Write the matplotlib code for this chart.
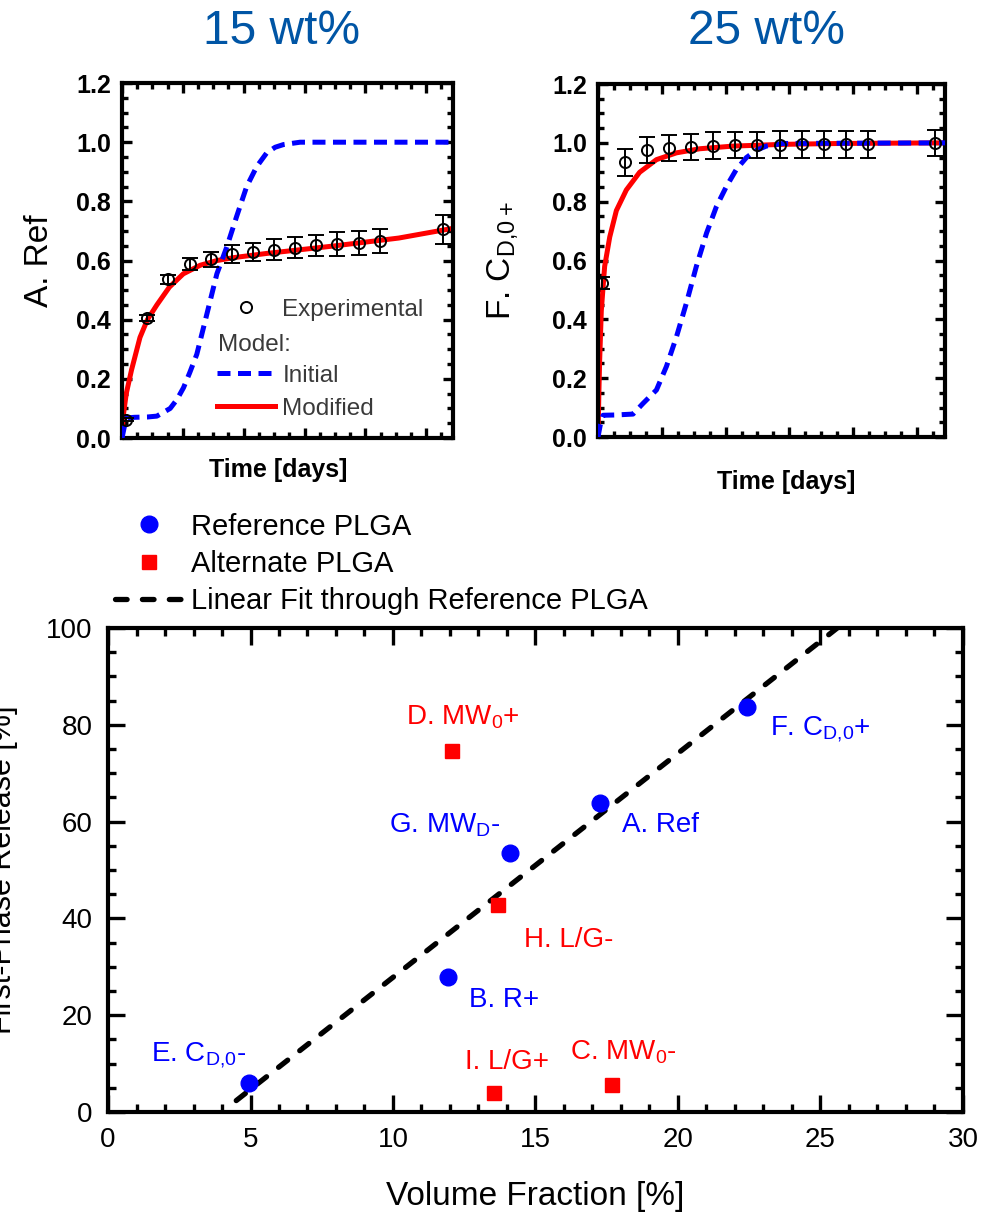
import numpy as np
import matplotlib
matplotlib.use('Agg')
import matplotlib.pyplot as plt
from matplotlib.lines import Line2D
from matplotlib.ticker import MultipleLocator, AutoMinorLocator, FormatStrFormatter

plt.rcParams['font.family'] = ['Liberation Sans', 'DejaVu Sans']
plt.rcParams['mathtext.default'] = 'regular'

# ------------------------------------------------------------
# Release curves (top panels), time in days
# ------------------------------------------------------------
t_exp = [0.2, 1.2, 2.2, 3.2, 4.2, 5.2, 6.2, 7.2, 8.2, 9.2, 10.2, 11.2, 12.2, 15.2]

ref_exp = [0.062, 0.405, 0.536, 0.587, 0.604, 0.621, 0.629, 0.637, 0.644, 0.651, 0.655, 0.660, 0.667, 0.705]
ref_err = [0.005, 0.01, 0.015, 0.02, 0.025, 0.03, 0.03, 0.035, 0.035, 0.035, 0.04, 0.04, 0.04, 0.05]

ref_mod_t = [0, 0.05, 0.2, 0.45, 0.85, 1.2, 1.65, 2.24, 2.9, 3.7, 4.5, 5.3, 6.85, 10.0, 13.1, 15.67]
ref_mod_y = [0, 0.07, 0.15, 0.23, 0.34, 0.40, 0.45, 0.51, 0.555, 0.584, 0.60, 0.61, 0.624, 0.649, 0.676, 0.709]

ref_ini_t = [0, 0.1, 0.22, 0.6, 1.2, 1.65, 2.28, 2.6, 2.91, 3.2, 3.54, 4.02, 4.49, 4.96, 5.43,
             5.9, 6.38, 6.85, 7.25, 7.64, 8.43, 15.67]
ref_ini_y = [0, 0.035, 0.068, 0.07, 0.071, 0.074, 0.10, 0.13, 0.17, 0.22, 0.283, 0.42, 0.555, 0.646, 0.75,
             0.85, 0.918, 0.964, 0.983, 0.992, 1.0, 1.0]

cd_exp = [0.523, 0.934, 0.975, 0.983, 0.986, 0.991, 0.992, 0.993, 0.994, 0.995, 0.995, 0.995, 0.995, 1.0]
cd_err = [0.02, 0.045, 0.045, 0.045, 0.045, 0.045, 0.045, 0.045, 0.045, 0.045, 0.045, 0.045, 0.045, 0.045]

cd_mod_t = [0, 0.04, 0.075, 0.15, 0.3, 0.53, 0.83, 1.28, 1.88, 2.64, 3.54, 4.6, 6.1, 8.36, 11.0, 15.67]
cd_mod_y = [0, 0.15, 0.26, 0.43, 0.58, 0.68, 0.77, 0.84, 0.90, 0.943, 0.966, 0.98, 0.989, 0.995, 0.998, 1.0]

cd_ini_t = [0, 0.1, 0.23, 0.8, 1.58, 2.03, 2.64, 3.09, 3.54, 3.99, 4.44, 4.9, 5.35, 5.8, 6.25,
            6.7, 7.15, 7.6, 8.36, 15.67]
cd_ini_y = [0, 0.04, 0.074, 0.075, 0.078, 0.114, 0.16, 0.24, 0.34, 0.455, 0.58, 0.693, 0.784, 0.852, 0.91,
            0.95, 0.975, 0.989, 0.998, 1.0]

# ------------------------------------------------------------
# First-phase release vs volume fraction (bottom panel)
# ------------------------------------------------------------
ref_names = ['A. Ref', 'B. R+', 'E. C$_{D{,}0}$-', 'F. C$_{D{,}0}$+', 'G. MW$_D$-']
ref_vf    = [17.28, 11.93, 4.95, 22.42, 14.12]
ref_fpr   = [63.9, 27.9, 5.9, 83.7, 53.6]

alt_names = ['C. MW$_0$-', 'D. MW$_0$+', 'H. L/G-', 'I. L/G+']
alt_vf    = [17.68, 12.07, 13.68, 13.54]
alt_fpr   = [5.6, 74.7, 42.7, 3.9]

# label anchor (left, baseline) in data units
ref_lab_pos = [(18.02, 57.8), (12.67, 21.8), (1.52, 10.5), (23.22, 78.0), (9.86, 57.8)]
alt_lab_pos = [(16.22, 10.9), (10.44, 80.0), (14.61, 34.2), (12.51, 8.9)]

fit_x = [4.5, 26.0]

blue = '#0000FF'
red = '#FF0000'
title_col = '#0055A5'
legend_gray = '#3A3A3A'

fig = plt.figure(figsize=(10.01, 12.16), dpi=100)
ax1 = fig.add_axes([0.1219, 0.6398, 0.3307, 0.2919])
ax2 = fig.add_axes([0.5974, 0.6406, 0.3467, 0.2903])
ax3 = fig.add_axes([0.1079, 0.0855, 0.8541, 0.3980])

dash_top = (0, (2.6, 1.5))
dash_fit = (0, (2.2, 2.9))


def style_top(ax):
    ax.set_xlim(0, 15.67)
    ax.set_ylim(0, 1.2)
    ax.xaxis.set_major_locator(MultipleLocator(2.88))
    ax.xaxis.set_minor_locator(AutoMinorLocator(4))
    ax.yaxis.set_major_locator(MultipleLocator(0.2))
    ax.yaxis.set_minor_locator(AutoMinorLocator(4))
    ax.yaxis.set_major_formatter(FormatStrFormatter('%.1f'))
    ax.tick_params(which='both', direction='in', top=True, right=True, width=2.4, pad=8)
    ax.tick_params(which='major', length=7)
    ax.tick_params(which='minor', length=4)
    ax.tick_params(axis='x', labelbottom=False)
    ax.tick_params(axis='y', labelsize=18)
    for lab in ax.get_yticklabels():
        lab.set_fontweight('bold')
    for s in ax.spines.values():
        s.set_linewidth(3)


def draw_release(ax, mod_t, mod_y, ini_t, ini_y, exp_y, exp_err):
    ax.plot(mod_t, mod_y, color=red, lw=3.6, zorder=2)
    ax.plot(ini_t, ini_y, color=blue, lw=3.6, ls=dash_top, zorder=3)
    ax.errorbar(t_exp, exp_y, yerr=exp_err, fmt='o', ms=8, mfc='none', mec='black', mew=1.4,
                ecolor='black', elinewidth=1.4, capsize=6, capthick=1.4, zorder=4)


# --- 15 wt% ---
draw_release(ax1, ref_mod_t, ref_mod_y, ref_ini_t, ref_ini_y, ref_exp, ref_err)
style_top(ax1)
ax1.set_ylabel('A. Ref', fontsize=24)
ax1.yaxis.set_label_coords(-0.203, 0.5)
ax1.set_xlabel('Time [days]', fontsize=18, fontweight='bold')
ax1.xaxis.set_label_coords(0.471, -0.056)

h_exp = Line2D([], [], marker='o', ms=8, mfc='none', mec='black', mew=1.4, ls='none')
h_blank = Line2D([], [], ls='none')
h_ini = Line2D([], [], color=blue, lw=3.6, ls=dash_top)
h_mod = Line2D([], [], color=red, lw=3.6)
ax1.legend([h_exp, h_blank, h_ini, h_mod], ['Experimental', ' ', 'Initial', 'Modified'],
           loc='upper left', bbox_to_anchor=(0.287, 0.392), frameon=False, fontsize=17.5,
           handlelength=2.39, handletextpad=0.3, labelspacing=0.45, borderpad=0, borderaxespad=0,
           labelcolor=legend_gray)
ax1.text(0.29, 0.262, 'Model:', transform=ax1.transAxes, fontsize=17.5, color=legend_gray,
         ha='left', va='center')

# --- 25 wt% ---
draw_release(ax2, cd_mod_t, cd_mod_y, cd_ini_t, cd_ini_y, cd_exp, cd_err)
style_top(ax2)
ax2.set_ylabel('F. C$_{D{,}0+}$', fontsize=24)
ax2.yaxis.set_label_coords(-0.226, 0.5)
ax2.set_xlabel('Time [days]', fontsize=18, fontweight='bold')
ax2.xaxis.set_label_coords(0.542, -0.093)

fig.text(282 / 1001, 1 - 31 / 1216, '15 wt%', fontsize=34.5, color=title_col, ha='center', va='center')
fig.text(767 / 1001, 1 - 31 / 1216, '25 wt%', fontsize=34.5, color=title_col, ha='center', va='center')

# --- First-phase release ---
slope, intercept = np.polyfit(ref_vf, ref_fpr, 1)
fit_y = [slope * x + intercept for x in fit_x]
ax3.plot(fit_x, fit_y, color='black', lw=3.8, ls=dash_fit, dash_capstyle='round', zorder=2)
ax3.plot(ref_vf, ref_fpr, 'o', color=blue, ms=12, zorder=3)
ax3.plot(alt_vf, alt_fpr, 's', color=red, ms=10, zorder=3)

for name, (lx, ly) in zip(ref_names, ref_lab_pos):
    ax3.text(lx, ly, name, color=blue, fontsize=20, ha='left', va='baseline')
for name, (lx, ly) in zip(alt_names, alt_lab_pos):
    ax3.text(lx, ly, name, color=red, fontsize=20, ha='left', va='baseline')

ax3.set_xlim(0, 30)
ax3.set_ylim(0, 100)
ax3.xaxis.set_major_locator(MultipleLocator(5))
ax3.xaxis.set_minor_locator(MultipleLocator(1))
ax3.yaxis.set_major_locator(MultipleLocator(20))
ax3.yaxis.set_minor_locator(MultipleLocator(5))
ax3.tick_params(which='both', direction='in', top=True, right=True, width=2.4, labelsize=20)
ax3.tick_params(which='major', length=12, pad=11)
ax3.tick_params(which='minor', length=6)
for s in ax3.spines.values():
    s.set_linewidth(3)
ax3.set_xlabel('Volume Fraction [%]', fontsize=24, labelpad=20)
ax3.set_ylabel('First-Phase Release [%]', fontsize=22)
ax3.yaxis.set_label_coords(-0.105, 0.5)

h_ref = Line2D([], [], marker='o', color=blue, ms=12, ls='none')
h_alt = Line2D([], [], marker='s', color=red, ms=10, ls='none')
h_fit = Line2D([], [], color='black', lw=3.8, ls=dash_fit, dash_capstyle='round')
fig.legend([h_ref, h_alt, h_fit], ['Reference PLGA', 'Alternate PLGA', 'Linear Fit through Reference PLGA'],
           loc='lower left', bbox_to_anchor=(0.115, 0.494), frameon=False, fontsize=21,
           handlelength=2.3, handletextpad=0.3, labelspacing=0.32, borderpad=0, borderaxespad=0)

fig.savefig('out.png', dpi=100)
